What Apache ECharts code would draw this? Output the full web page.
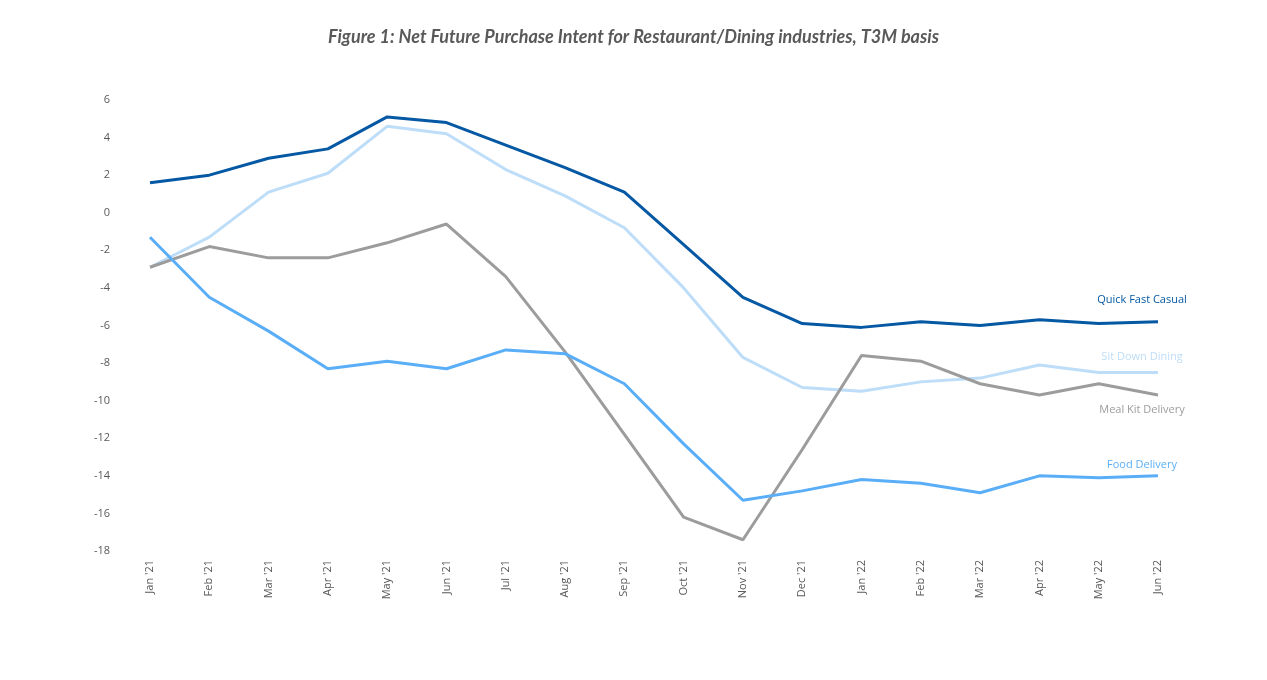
<!DOCTYPE html>
<html>
<head>
<meta charset="utf-8">
<script src="https://cdn.jsdelivr.net/npm/echarts@6/dist/echarts.min.js"></script>
<style>
  html, body { margin: 0; padding: 0; background: #fff; }
  #chart { width: 1267px; height: 680px; }
</style>
</head>
<body>
<div id="chart"></div>
<script>
var months = ["Jan '21", "Feb '21", "Mar '21", "Apr '21", "May '21", "Jun '21", "Jul '21", "Aug '21", "Sep '21",
  "Oct '21", "Nov '21", "Dec '21", "Jan '22", "Feb '22", "Mar '22", "Apr '22", "May '22", "Jun '22"];

var quickFastCasual = [1.6, 2.0, 2.9, 3.4, 5.1, 4.8, 3.6, 2.4, 1.1, -1.7, -4.5, -5.9, -6.1, -5.8, -6.0, -5.7, -5.9, -5.8];
var sitDownDining = [-2.9, -1.3, 1.1, 2.1, 4.6, 4.2, 2.3, 0.9, -0.8, -4.0, -7.7, -9.3, -9.5, -9.0, -8.8, -8.1, -8.5, -8.5];
var mealKitDelivery = [-2.9, -1.8, -2.4, -2.4, -1.6, -0.6, -3.4, -7.4, -11.8, -16.2, -17.4, -12.6, -7.6, -7.9, -9.1, -9.7, -9.1, -9.7];
var foodDelivery = [-1.3, -4.5, -6.3, -8.3, -7.9, -8.3, -7.3, -7.5, -9.1, -12.3, -15.3, -14.8, -14.2, -14.4, -14.9, -14.0, -14.1, -14.0];

var chart = echarts.init(document.getElementById("chart"));

function lineSeries(name, data, color, offset) {
  return {
    name: name,
    type: "line",
    data: data,
    symbol: "none",
    lineStyle: { color: color, width: 3 },
    itemStyle: { color: color },
    endLabel: {
      show: true,
      formatter: name,
      color: color,
      fontSize: 11,
      fontFamily: "Open Sans",
      align: "center",
      verticalAlign: "middle",
      distance: 0,
      offset: offset
    }
  };
}

chart.setOption({
  animation: false,
  title: {
    text: "Figure 1: Net Future Purchase Intent for Restaurant/Dining industries, T3M basis",
    left: "center",
    top: 23,
    textStyle: {
      color: "#595959",
      fontSize: 18,
      fontWeight: "bold",
      fontStyle: "italic",
      fontFamily: "Lato"
    }
  },
  grid: {
    left: 150,
    right: 109,
    top: 100,
    bottom: 129
  },
  xAxis: {
    type: "category",
    boundaryGap: false,
    data: months,
    axisLine: { show: false },
    axisTick: { show: false },
    splitLine: { show: false },
    axisLabel: {
      rotate: 90,
      margin: 9,
      color: "#595959",
      fontSize: 11,
      fontFamily: "Open Sans"
    }
  },
  yAxis: {
    type: "value",
    min: -18,
    max: 6,
    interval: 2,
    axisLine: { show: false },
    axisTick: { show: false },
    splitLine: { show: false },
    axisLabel: {
      margin: 40,
      color: "#595959",
      fontSize: 11,
      fontFamily: "Open Sans"
    }
  },
  series: [
    lineSeries("Quick Fast Casual", quickFastCasual, "#0558A3", [-16, -22]),
    lineSeries("Sit Down Dining", sitDownDining, "#BDDDF8", [-16, -16]),
    lineSeries("Meal Kit Delivery", mealKitDelivery, "#9C9C9C", [-16, 15]),
    lineSeries("Food Delivery", foodDelivery, "#5AAEF7", [-16, -11])
  ]
});
</script>
</body>
</html>
